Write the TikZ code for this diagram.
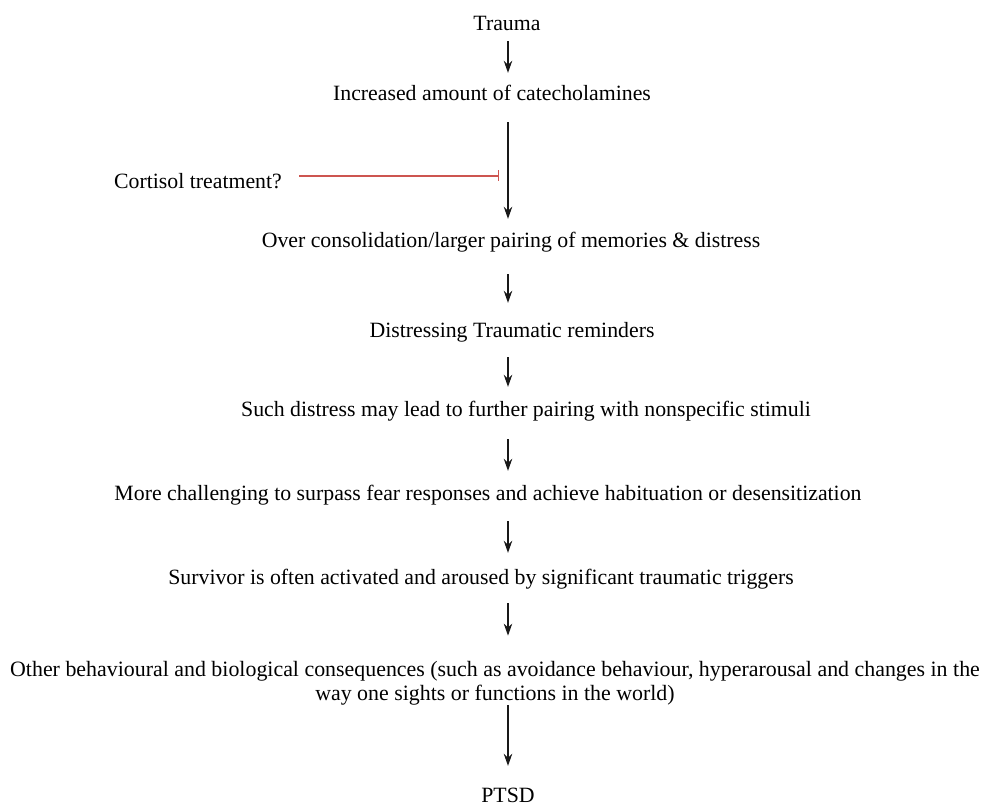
\documentclass[tikz,border=0pt]{standalone}
\usepackage{fontspec}
\setmainfont{Liberation Serif}
\usetikzlibrary{arrows.meta}
\definecolor{inhred}{RGB}{205,85,80}
\begin{document}
\begin{tikzpicture}[x=1pt,y=-1pt,
  lbl/.style={inner sep=0pt, anchor=base, text height=16pt, text depth=5pt,
    font=\fontsize{21.8}{24}\selectfont},
  arr/.style={-{Stealth[length=12pt,width=8.5pt]}, line width=1.1pt, black!90},
  inh/.style={-{Bar[width=11pt,line width=1.4pt]}, line width=1.1pt, inhred}]
\useasboundingbox (0,0) rectangle (982,805);
\coordinate (ax) at (508,0);
\node[lbl] (n1) at (507,31) {Trauma};
\node[lbl] (n2) at (492,101) {Increased amount of catecholamines};
\node[lbl] (cort) at (198,189) {Cortisol treatment?};
\node[lbl] (n3) at (511,247) {Over consolidation/larger pairing of memories \& distress};
\node[lbl] (n4) at (512,337) {Distressing Traumatic reminders};
\node[lbl] (n5) at (526,416) {Such distress may lead to further pairing with nonspecific stimuli};
\node[lbl] (n6) at (488,500) {More challenging to surpass fear responses and achieve habituation or desensitization};
\node[lbl] (n7) at (481,584) {Survivor is often activated and aroused by significant traumatic triggers};
\node[inner sep=0pt, anchor=base, align=center, font=\fontsize{21.9}{24}\selectfont] (n8) at (495,700)
  {Other behavioural and biological consequences (such as avoidance behaviour, hyperarousal and changes in the\\
   way one sights or functions in the world)};
\node[lbl] (n9) at (508,802) {PTSD};
\coordinate (hit) at (499,176);
\draw[arr, shorten <=5pt, shorten >=12pt] (n1.south -| ax) -- (n2.north -| ax);
\draw[arr, shorten <=16pt, shorten >=12pt] (n2.south -| ax) -- (n3.north -| ax);
\draw[arr, shorten <=22pt, shorten >=18pt] (n3.south -| ax) -- (n4.north -| ax);
\draw[arr, shorten <=15pt, shorten >=13pt] (n4.south -| ax) -- (n5.north -| ax);
\draw[arr, shorten <=18pt, shorten >=13pt] (n5.south -| ax) -- (n6.north -| ax);
\draw[arr, shorten <=16pt, shorten >=15pt] (n6.south -| ax) -- (n7.north -| ax);
\draw[arr, shorten <=14pt, shorten >=25pt] (n7.south -| ax) -- (n8.north -| ax);
\draw[arr, shorten <=0pt, shorten >=20pt] (n8.south -| ax) -- (n9.north -| ax);
\draw[inh, shorten <=17pt] (cort.east |- hit) -- (hit);
\end{tikzpicture}
\end{document}
